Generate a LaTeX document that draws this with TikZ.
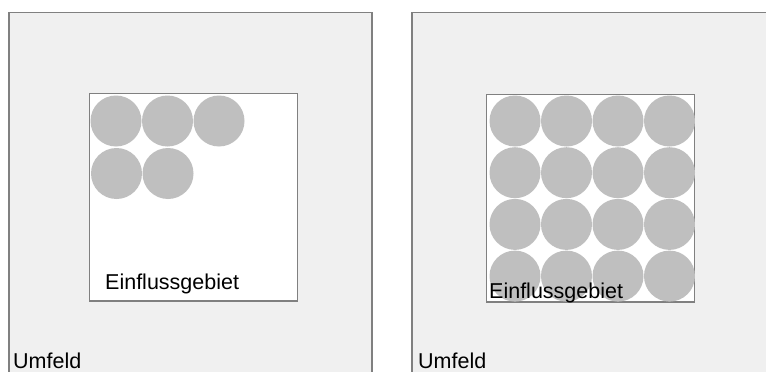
\documentclass[tikz,border=0pt]{standalone}
\usepackage{fontspec}
\setmainfont{Liberation Sans}
\usetikzlibrary{positioning}
\tikzset{
  umfeldbox/.style={draw=black!50, fill=black!6, line width=1.4pt},
  gebietbox/.style={draw=black!50, fill=white, line width=1.5pt},
  teilchen/.style={fill=black!25, draw=none},
  schrift/.style={font=\fontsize{21.5}{26}\selectfont, inner sep=0pt, anchor=base west},
}

\begin{document}
\begin{tikzpicture}[x=1pt, y=-1pt]
    \clip (0,0) rectangle (766,372);
    \fill[white] (0,0) rectangle (766,372);
    % links: wenige Teilchen
    \draw[umfeldbox] (9,12.3) rectangle (372,400);
    \draw[gebietbox] (89.3,93.5) rectangle (297.3,301);
    \foreach \i in {0,1,2}
      \fill[teilchen] (116+51.5*\i,121) circle (25.5);
    \foreach \i in {0,1}
      \fill[teilchen] (116.5+51.5*\i,173.5) circle (25.5);
    \node[schrift] (gebietL) at (105,289) {Einflussgebiet};
    \node[schrift] (umfeldL) at (13,368) {Umfeld};
    % rechts: Gebiet voll besetzt
    \draw[umfeldbox] (412,12.3) rectangle (800,400);
    \draw[gebietbox] (486.3,94.3) rectangle (694.7,302);
    \foreach \i in {0,...,3}
      \foreach \j in {0,...,3}
        \fill[teilchen] (515+51.5*\i,121+51.7*\j) circle (25.5);
    \node[schrift] (gebietR) at (489,298) {Einflussgebiet};
    \node[schrift] (umfeldR) at (418,368) {Umfeld};
\end{tikzpicture}
\end{document}
